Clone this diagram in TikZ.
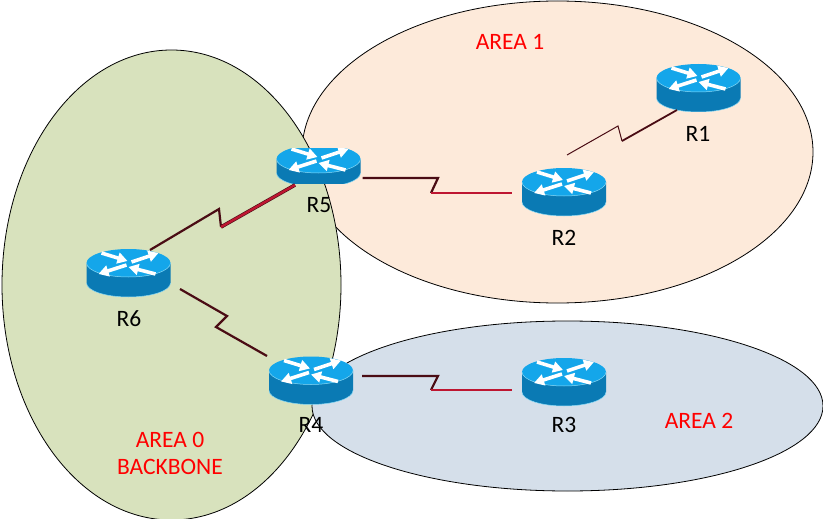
\documentclass[tikz,border=0pt]{standalone}
\usepackage{fontspec}
\setmainfont{Carlito}
\usepackage{xcolor}
\usetikzlibrary{arrows.meta,shapes.geometric,calc}

\definecolor{areaone}{HTML}{FDEADA}
\definecolor{areazero}{HTML}{D8E2BD}
\definecolor{areatwo}{HTML}{D5DFEA}
\definecolor{routertop}{HTML}{14A6EA}
\definecolor{routerside}{HTML}{0A7AB4}
\definecolor{routerrim}{HTML}{8ADAF6}
\definecolor{linkdark}{HTML}{4A0C14}
\definecolor{linkred}{HTML}{BE1631}

% #1 = vertical scale, #2 = half of the side height
\newcommand{\routerglyph}[2]{%
  \begin{scope}[shift={(path picture bounding box.center)}, yscale=#1]
    \fill[routerside] (-42,-#2) -- (-42,#2) arc[start angle=180, end angle=360, x radius=42, y radius=-14]
      -- (42,-#2) -- cycle;
    \draw[routerrim, line width=0.5pt] (-42,#2) arc[start angle=180, end angle=360, x radius=42, y radius=-14];
    \fill[routertop] (0,-#2) ellipse[x radius=42, y radius=14];
    \draw[routerrim, line width=0.5pt] (-42,-#2) arc[start angle=180, end angle=360, x radius=42, y radius=-14];
    \foreach \xa/\ya/\xb/\yb in {-27/-10/-1/-2, 3/-1/30/-10, -2/2/-30/11, 27/11/0/4}
      \draw[routerarrow] (\xa,{\ya-#2}) -- (\xb,{\yb-#2});
  \end{scope}}

\begin{document}
\begin{tikzpicture}[
  x=1pt, y=-1pt,
  area/.style={ellipse, draw=black, line width=0.8pt, inner sep=0pt},
  router/.style 2 args={minimum width=86pt, minimum height={(28+2*#2)*#1*1pt}, inner sep=0pt, outer sep=0pt,
                 path picture={\routerglyph{#1}{#2}}},
  stdrouter/.style={router={1}{10}},
  flatrouter/.style={router={0.84}{7}},
  routerarrow/.style={white, line width=3.6pt, -{Triangle[width=11pt,length=10pt]}},
  lbl/.style={font=\fontsize{23.5}{27}\selectfont, inner sep=0pt, align=center},
  arealbl/.style={lbl, text=red},
  serialthin/.style={draw=linkdark, line width=2.2pt, line join=miter},
  serialthick/.style={draw=linkdark, double=linkred, double distance=2.4pt, line width=0.6pt},
  serialred/.style={draw=linkred, line width=2.8pt}
]
\useasboundingbox (0,0) rectangle (823,519);

% ==================== Areas ====================
\node[area, fill=areaone,  minimum width=511pt, minimum height=302pt] (area1) at (557.5,152) {};
\node[area, fill=areazero, minimum width=339pt, minimum height=470pt] (area0) at (171.5,285) {};
\node[area, fill=areatwo,  minimum width=511pt, minimum height=170pt] (area2) at (567.5,406) {};

% ==================== Routers ====================
\node[stdrouter]  (R1) at (698.5,88) {};
\node[stdrouter]  (R2) at (564,192) {};
\node[stdrouter]  (R3) at (564,382) {};
\node[stdrouter]  (R4) at (311,380.5) {};
\node[flatrouter] (R5) at (318.5,166) {};
\node[stdrouter]  (R6) at (128.5,273) {};

% ==================== Serial links ====================
% R5 - R2
\draw[serialthin]  ($(R5)+(44,12)$) -- (438,178) -- (431,193);
\draw[serialred]   (431,193) -- ($(R2)+(-52,1)$);
% R4 - R3
\draw[serialthin]  ($(R4)+(51,-4.5)$) -- (438,376) -- (431,390);
\draw[serialred]   (431,390) -- ($(R3)+(-52,8)$);
% R6 - R5
\draw[serialthin]  ($(R6)+(21.5,-23)$) -- (219,209) -- (221,227);
\draw[serialthick] (221,227) -- ($(R5)+(-23.5,19)$);
% R6 - R4
\draw[serialthin]  ($(R6)+(51.5,16)$) -- (227,316) -- (216,327) -- ($(R4)+(-44,-24.5)$);
% R2 - R1
\draw[serialthin, line width=1pt] ($(R2)+(3,-37)$) -- (618,126) -- (622,141);
\draw[serialthin, line width=1.8pt] (622,141) -- ($(R1)+(-21.5,22)$);

% ==================== Labels ====================
\node[lbl] (lblR1) at (698,134) {R1};
\node[lbl] (lblR2) at (564,238) {R2};
\node[lbl] (lblR3) at (564,425) {R3};
\node[lbl] (lblR4) at (311,425) {R4};
\node[lbl] (lblR5) at (319,205) {R5};
\node[lbl] (lblR6) at (129,319) {R6};
\node[arealbl] (lblarea1) at (510,42) {AREA 1};
\node[arealbl] (lblarea2) at (699,421) {AREA 2};
\node[arealbl] (lblarea0) at (170,453) {AREA 0\\BACKBONE};

\end{tikzpicture}
\end{document}
